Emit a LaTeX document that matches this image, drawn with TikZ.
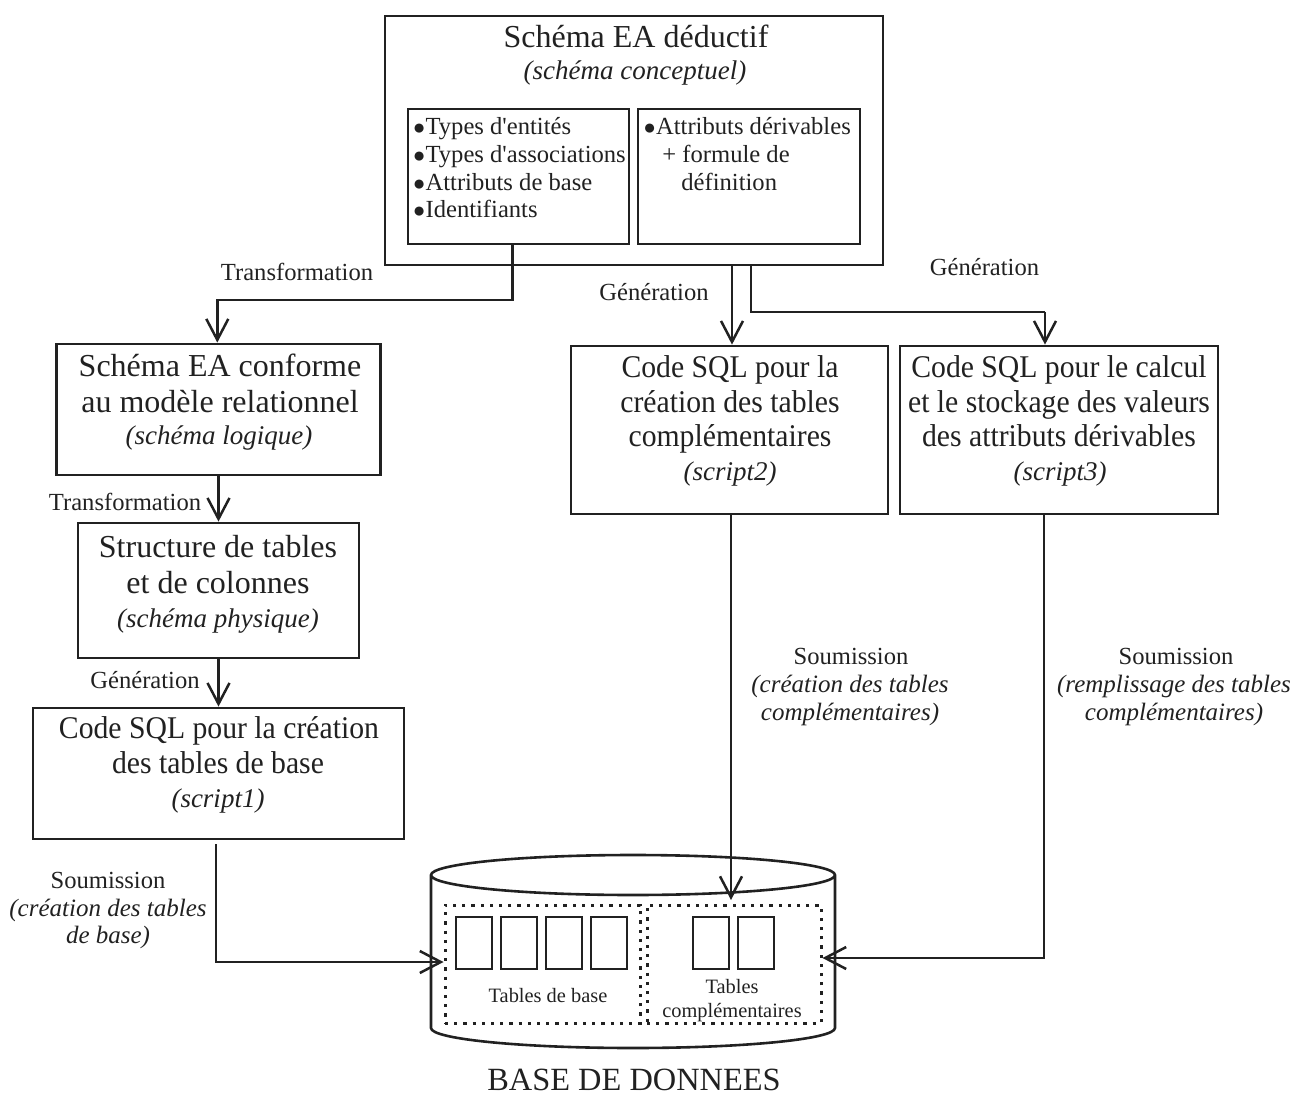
\documentclass[tikz,border=0pt]{standalone}
\usepackage{fontspec}
\setmainfont{Liberation Serif}
\newfontfamily\serre[FakeStretch=0.94]{Liberation Serif}
\usetikzlibrary{arrows.meta}
\definecolor{encre}{gray}{0.13}
\newcommand{\puce}{{\fontsize{10.5}{10.5}\selectfont ●}}
\tikzset{
	boite/.style={draw=encre,line width=1.4pt,inner sep=0pt},
	tableau/.style={draw=encre,line width=1.1pt,inner sep=0pt,minimum width=18pt,minimum height=26pt},
	zone/.style={draw=encre,line width=1.5pt,inner sep=0pt,dash pattern=on 1.6pt off 3pt},
	fleche/.style={draw=encre,line width=1.25pt,-{Straight Barb[length=10.5pt,width=11pt,line width=1.25pt]}},
	grand/.style={text=encre,inner sep=0pt,anchor=base,font=\fontsize{16}{19}\selectfont},
	serre/.style={text=encre,inner sep=0pt,anchor=base,font=\serre\fontsize{15.8}{19}\selectfont},
	ital/.style={text=encre,inner sep=0pt,anchor=base,font=\fontsize{13.5}{16}\selectfont\itshape},
	petit/.style={text=encre,inner sep=0pt,anchor=base,font=\fontsize{12.3}{15}\selectfont},
	petitit/.style={text=encre,inner sep=0pt,anchor=base,font=\fontsize{12.5}{15}\selectfont\itshape},
	mini/.style={text=encre,inner sep=0pt,anchor=base,font=\fontsize{10.2}{12}\selectfont},
}
\begin{document}
\begin{tikzpicture}[x=0.5pt,y=-0.5pt]
	\useasboundingbox (0,0) rectangle (1294,1096);
	% schema conceptuel
	\node[boite,minimum width=249pt,minimum height=124.5pt] (conceptuel) at (634,140.5) {};
	\node[boite,minimum width=110.5pt,minimum height=67.5pt] (types) at (518.5,176.5) {};
	\node[boite,minimum width=111pt,minimum height=67.5pt] (derivables) at (749,176.5) {};
	\node[grand] (conceptuel1) at (636,48) {Schéma EA déductif};
	\node[ital] (conceptuel2) at (635,80) {(schéma conceptuel)};
	\node[petit,anchor=base west] (types1) at (412.5,135) {\puce Types d\textquotesingle entités};
	\node[petit,anchor=base west] (types2) at (412.5,163) {\puce Types d\textquotesingle associations};
	\node[petit,anchor=base west] (types3) at (412.5,191) {\puce Attributs de base};
	\node[petit,anchor=base west] (types4) at (412.5,218) {\puce Identifiants};
	\node[petit,anchor=base west] (derivables1) at (643,135) {\puce Attributs dérivables};
	\node[petit,anchor=base west] (derivables2) at (662,163) {+ formule de};
	\node[petit,anchor=base west] (derivables3) at (681,191) {définition};
	% colonne de gauche
	\node[boite,minimum width=162pt,minimum height=65.5pt] (logique) at (218.5,409.5) {};
	\node[grand] (logique1) at (220,376) {Schéma EA conforme};
	\node[grand] (logique2) at (220,412) {au modèle relationnel};
	\node[ital] (logique3) at (219,444) {(schéma logique)};
	\node[boite,minimum width=140.5pt,minimum height=67.5pt] (physique) at (218.5,590.5) {};
	\node[grand] (physique1) at (218,557) {Structure de tables};
	\node[grand] (physique2) at (218,593) {et de colonnes};
	\node[ital] (physique3) at (218,627) {(schéma physique)};
	\node[boite,minimum width=185.5pt,minimum height=65.5pt] (scriptun) at (218.5,773.5) {};
	\node[serre] (scriptun1) at (219,738) {Code SQL pour la création};
	\node[serre] (scriptun2) at (218,773) {des tables de base};
	\node[ital] (scriptun3) at (218,807) {(script1)};
	% scripts de droite
	\node[boite,minimum width=158.5pt,minimum height=84pt] (scriptdeux) at (729.5,430) {};
	\node[serre] (scriptdeux1) at (730,378) {Code SQL pour la};
	\node[serre] (scriptdeux2) at (730,412) {création des tables};
	\node[serre] (scriptdeux3) at (730,446) {complémentaires};
	\node[ital] (scriptdeux4) at (730,480) {(script2)};
	\node[boite,minimum width=159pt,minimum height=84pt] (scripttrois) at (1059,430) {};
	\node[serre] (scripttrois1) at (1059,378) {Code SQL pour le calcul};
	\node[serre] (scripttrois2) at (1059,412) {et le stockage des valeurs};
	\node[serre] (scripttrois3) at (1059,446) {des attributs dérivables};
	\node[ital] (scripttrois4) at (1060,480) {(script3)};
	% base de donnees
	\draw[encre,line width=1.3pt] (431,875) arc[start angle=180,end angle=360,x radius=101pt,y radius=10pt]
		arc[start angle=0,end angle=180,x radius=101pt,y radius=10pt] -- (431,1028)
		arc[start angle=180,end angle=360,x radius=101pt,y radius=10pt] -- (835,875);
	\node[zone,minimum width=97.5pt,minimum height=59pt] (base) at (542.5,964) {};
	\node[zone,minimum width=87pt,minimum height=59pt] (compl) at (734,964) {};
	\node[tableau] (tbase1) at (474,943) {};
	\node[tableau] (tbase2) at (519,943) {};
	\node[tableau] (tbase3) at (564,943) {};
	\node[tableau] (tbase4) at (609,943) {};
	\node[tableau] (tcompl1) at (711,943) {};
	\node[tableau] (tcompl2) at (756,943) {};
	\node[mini] (base1) at (548,1002) {Tables de base};
	\node[mini] (compl1) at (732,993) {Tables};
	\node[mini] (compl2) at (732,1017) {complémentaires};
	\node[font=\fontsize{16.2}{19}\selectfont,text=encre,inner sep=0pt,anchor=base] (bdd) at (634,1090) {BASE DE DONNEES};
	% transformations et generations
	\coordinate (coude1) at (512.5,300);
	\coordinate (coude2) at (732,300);
	\coordinate (coude3) at (751,312);
	\coordinate (coude4) at (1045,312);
	\draw[fleche] (types.south -| coude1) -- (coude1) -| ([xshift=-0.6pt]logique.north);
	\draw[fleche] (conceptuel.south -| coude2) -- (scriptdeux.north -| coude2);
	\draw[draw=encre,line width=1.25pt] (conceptuel.south -| coude3) |- (coude4);
	\draw[fleche] (coude4) -- (scripttrois.north -| coude4);
	\draw[fleche] (logique.south) -- (physique.north);
	\draw[fleche] (physique.south) -- (scriptun.north);
	\node[petit] (trans1) at (297,281) {Transformation};
	\node[petit] (gen1) at (654,301) {Génération};
	\node[petit] (gen2) at (984.5,276) {Génération};
	\node[petit] (trans2) at (125,510) {Transformation};
	\node[petit] (gen3) at (145,688) {Génération};
	% soumissions
	\coordinate (coude5) at (216,962);
	\coordinate (coude6) at (731,900);
	\coordinate (coude7) at (1044,958);
	\draw[fleche,shorten <=2pt] (scriptun.south -| coude5) -- (coude5) -- (base.west |- coude5);
	\draw[fleche,line width=1pt] (scriptdeux.south -| coude6) -- (coude6);
	\draw[fleche] (scripttrois.south -| coude7) -- (coude7) -- (compl.east |- coude7);
	\node[petit] (soum1) at (108,888) {Soumission};
	\node[petitit] (soum1a) at (108,916) {(création des tables};
	\node[petitit] (soum1b) at (108,943) {de base)};
	\node[petit] (soum2) at (851,664) {Soumission};
	\node[petitit] (soum2a) at (850,692) {(création des tables};
	\node[petitit] (soum2b) at (850,720) {complémentaires)};
	\node[petit] (soum3) at (1176,664) {Soumission};
	\node[petitit] (soum3a) at (1174,692) {(remplissage des tables};
	\node[petitit] (soum3b) at (1174,720) {complémentaires)};
\end{tikzpicture}
\end{document}
